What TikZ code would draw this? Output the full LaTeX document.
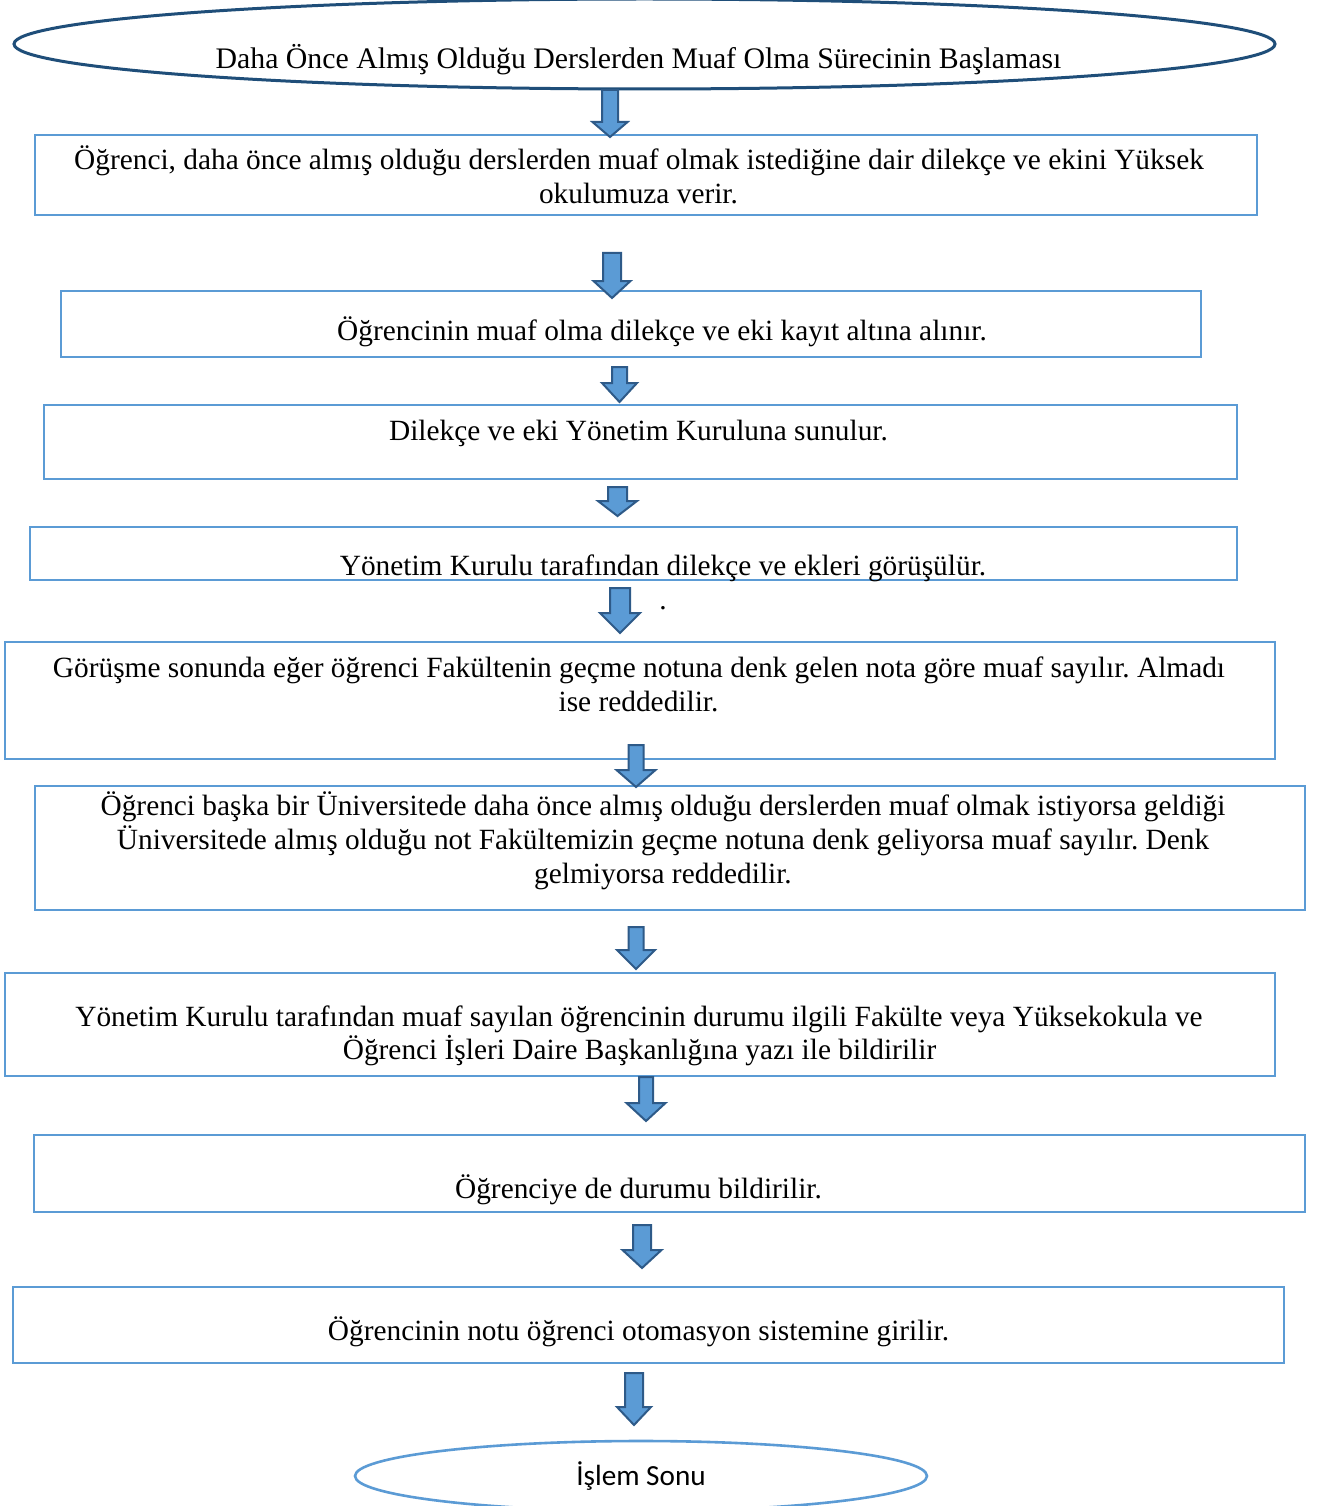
\documentclass[tikz,border=0pt]{standalone}
\usepackage{fontspec}
\setmainfont{Liberation Serif}
\newfontfamily\calibrifont{Carlito}
\usetikzlibrary{shapes.geometric}
\frenchspacing

\definecolor{boxblue}{HTML}{5B9BD5}
\definecolor{darkblue}{HTML}{1F4E79}
\definecolor{arrowedge}{HTML}{2E5A88}

\tikzset{
  box/.style={draw=boxblue, line width=2.4pt, rectangle, inner sep=0pt, fill=none},
  txt/.style={inner sep=0pt, anchor=base, font=\fontsize{29.35}{34.3}\selectfont},
  titletxt/.style={txt, font=\fontsize{29.8}{34.3}\selectfont},
  endtxt/.style={inner sep=0pt, anchor=base, font=\calibrifont\fontsize{29.2}{34}\selectfont},
  blockarrow/.style={draw=arrowedge, fill=boxblue, line width=2pt, line join=miter},
}

% block arrow pointing down: name, centre x, top y, head start y, tip y, shaft half width, head half width
\newcommand{\downblock}[7]{%
  \draw[blockarrow] ({#2-#6},#3) -- ({#2+#6},#3) -- ({#2+#6},#4) -- ({#2+#7},#4)
    -- (#2,#5) coordinate (#1) -- ({#2-#7},#4) -- ({#2-#6},#4) -- cycle;}

\begin{document}
\begin{tikzpicture}[x=1pt,y=-1pt]
\useasboundingbox[fill=white] (0,0) rectangle (1320,1506);

% start terminal
\node[ellipse, draw=darkblue, line width=3pt, inner sep=0pt,
      minimum width=1261pt, minimum height=90pt] (start) at (644.5,44) {};
\node[titletxt] (tstart) at (638.5,69) {Daha Önce Almış Olduğu Derslerden Muaf Olma Sürecinin Başlaması};

% process boxes
\node[box, minimum width=1222pt, minimum height=80pt] (b1) at (646,175) {};
\node[box, minimum width=1140pt, minimum height=66pt] (b2) at (631,324) {};
\node[box, minimum width=1193pt, minimum height=74pt] (b3) at (640.5,442) {};
\node[box, minimum width=1207pt, minimum height=53pt] (b4) at (633.5,553.5) {};
\node[box, minimum width=1270pt, minimum height=117pt] (b5) at (640,700.5) {};
\node[box, minimum width=1270pt, minimum height=124pt] (b6) at (670,848) {};
\node[box, minimum width=1270pt, minimum height=103pt] (b7) at (640,1024.5) {};
\node[box, minimum width=1271pt, minimum height=77pt] (b8) at (669.5,1173.5) {};
\node[box, minimum width=1271pt, minimum height=76pt] (b9) at (648.5,1325) {};

% end terminal
\node[ellipse, draw=boxblue, line width=2.6pt, inner sep=0pt,
      minimum width=572pt, minimum height=70pt] (stop) at (641,1476) {};

% box texts
\node[txt] (t1a) at (639,170) {Öğrenci, daha önce almış olduğu derslerden muaf olmak istediğine dair dilekçe ve ekini Yüksek};
\node[txt] (t1b) at (638.5,204) {okulumuza verir.};
\node[txt] (t2) at (662,340) {Öğrencinin muaf olma dilekçe ve eki kayıt altına alınır.};
\node[txt] (t3) at (638.5,440) {Dilekçe ve eki Yönetim Kuruluna sunulur.};
\node[txt] (t4) at (663,575) {Yönetim Kurulu tarafından dilekçe ve ekleri görüşülür.};
\node[txt] (tdot) at (663,609) {.};
\node[txt] (t5a) at (639,677) {Görüşme sonunda eğer öğrenci Fakültenin geçme notuna denk gelen nota göre muaf sayılır. Almadı};
\node[txt] (t5b) at (638.5,711) {ise reddedilir.};
\node[txt] (t6a) at (663,815) {Öğrenci başka bir Üniversitede daha önce almış olduğu derslerden muaf olmak istiyorsa geldiği};
\node[txt] (t6b) at (663,849) {Üniversitede almış olduğu not Fakültemizin geçme notuna denk geliyorsa muaf sayılır. Denk};
\node[txt] (t6c) at (663,883) {gelmiyorsa reddedilir.};
\node[txt] (t7a) at (639,1026) {Yönetim Kurulu tarafından muaf sayılan öğrencinin durumu ilgili Fakülte veya Yüksekokula ve};
\node[txt] (t7b) at (639.5,1059) {Öğrenci İşleri Daire Başkanlığına yazı ile bildirilir};
\node[txt] (t8) at (638.5,1198) {Öğrenciye de durumu bildirilir.};
\node[txt] (t9) at (638.5,1340) {Öğrencinin notu öğrenci otomasyon sistemine girilir.};
\node[endtxt] (tstop) at (641,1485) {İşlem Sonu};

% block arrows between the steps
\downblock{a1}{610}{90}{122}{137}{8}{17.5}
\downblock{a2}{612}{253}{281}{298}{9}{18.5}
\downblock{a3}{619.5}{367}{383}{402}{7.5}{17.5}
\downblock{a4}{617.5}{487}{501}{516}{9.5}{19.5}
\downblock{a5}{620}{588}{613}{633}{10}{20}
\downblock{a6}{636}{745}{770}{787}{7.5}{19.5}
\downblock{a7}{636}{927}{950}{969}{7.5}{19}
\downblock{a8}{646}{1077}{1103}{1121}{7}{19.5}
\downblock{a9}{642}{1225}{1250}{1268}{9}{19.5}
\downblock{a10}{634}{1373}{1407}{1425}{9}{17}
\end{tikzpicture}
\end{document}
